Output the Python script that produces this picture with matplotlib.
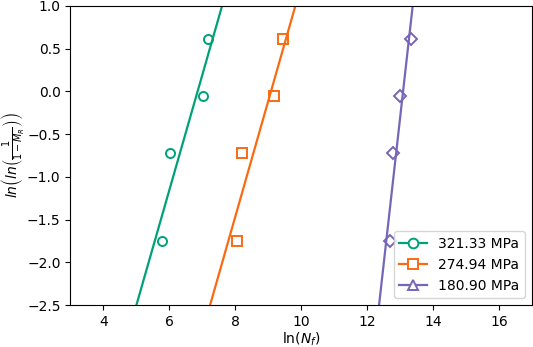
import numpy as np
import matplotlib
matplotlib.use('Agg')
import matplotlib.pyplot as plt
from matplotlib.lines import Line2D

# median ranks, ln(ln(1/(1-M_R)))
y_rank = [-1.753, -0.718, -0.049, 0.609]

labels = ['321.33 MPa', '274.94 MPa', '180.90 MPa']
x_321 = [5.78, 6.03, 7.03, 7.18]
x_275 = [8.06, 8.22, 9.19, 9.46]
x_181 = [12.70, 12.79, 13.00, 13.32]

colors = ['#00a078', '#f96a12', '#7566b8']
markers = ['o', 's', 'D']
legend_markers = ['o', 's', '^']

fig = plt.figure(figsize=(5.33, 3.47), dpi=100)
ax = fig.add_axes([0.132, 0.121, 0.866, 0.862])

xx = np.linspace(3, 17, 200)
for xs, c, m in zip([x_321, x_275, x_181], colors, markers):
    ax.plot(xs, y_rank, linestyle='none', marker=m, markersize=6.5,
            markerfacecolor='none', markeredgecolor=c, markeredgewidth=1.4)
    slope, icpt = np.polyfit(xs, y_rank, 1)
    ax.plot(xx, slope * xx + icpt, color=c, linewidth=1.6)

handles = [Line2D([], [], color=c, marker=m, markersize=7, markerfacecolor='white',
                  markeredgecolor=c, markeredgewidth=1.4, linewidth=1.6)
           for c, m in zip(colors, legend_markers)]
ax.legend(handles, labels, loc='lower right', fontsize=10)

ax.set_xlim(3, 17)
ax.set_ylim(-2.5, 1.0)
ax.set_xticks([4, 6, 8, 10, 12, 14, 16])
ax.set_xlabel(r'ln($N_f$)', fontsize=10, labelpad=1)
ax.set_ylabel(r'$ln\left(ln\left(\frac{1}{1-M_R}\right)\right)$', fontsize=10, labelpad=1)
ax.tick_params(labelsize=10)

fig.savefig('out.png', dpi=100)
